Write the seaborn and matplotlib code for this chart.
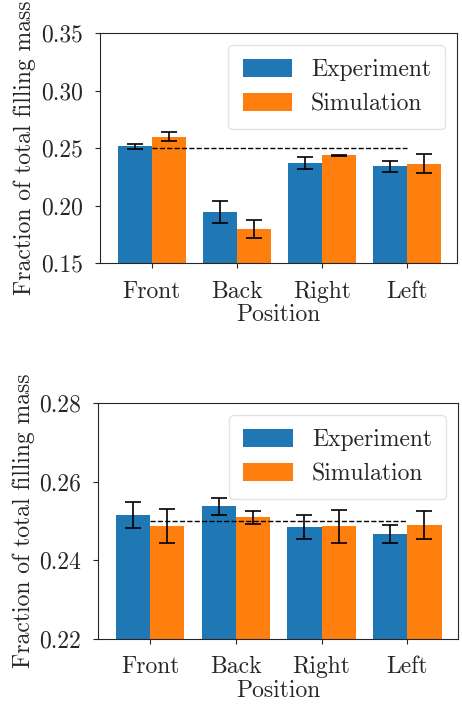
import matplotlib
matplotlib.use("Agg")
import matplotlib.pyplot as plt
import seaborn as sns
import pandas as pd
import numpy as np

positions = ["Front", "Back", "Right", "Left"]
series = ["Experiment", "Simulation"]

top_exp = [0.2514, 0.1944, 0.2370, 0.2340]
top_exp_err = [0.0023, 0.0099, 0.0050, 0.0050]
top_sim = [0.2600, 0.1796, 0.2436, 0.2364]
top_sim_err = [0.0040, 0.0077, 0.0005, 0.0085]

bot_exp = [0.2516, 0.2537, 0.2485, 0.2467]
bot_exp_err = [0.0033, 0.0022, 0.0030, 0.0022]
bot_sim = [0.2488, 0.2509, 0.2486, 0.2490]
bot_sim_err = [0.0043, 0.0016, 0.0043, 0.0036]

top_ticks = [0.15, 0.20, 0.25, 0.30, 0.35]
bot_ticks = [0.22, 0.24, 0.26, 0.28]
reference = 0.25

sns.set_style("ticks")
plt.rcParams["font.family"] = ["cmr10", "DejaVu Serif"]
plt.rcParams["axes.formatter.use_mathtext"] = True
FS = 17
plt.rcParams["font.size"] = FS

palette = {"Experiment": "#1f77b4", "Simulation": "#ff7f0e"}

fig = plt.figure(figsize=(4.62, 7.08), dpi=100)
ax1 = fig.add_axes([0.2165, 0.6285, 0.7727, 0.3249])
ax2 = fig.add_axes([0.212, 0.0975, 0.779, 0.3333])


def panel(ax, exp, exp_err, sim, sim_err, ticks):
    df = pd.DataFrame({
        "Position": positions * 2,
        "Series": [series[0]] * 4 + [series[1]] * 4,
        "Value": list(exp) + list(sim),
        "Err": list(exp_err) + list(sim_err),
    })
    sns.barplot(data=df, x="Position", y="Value", hue="Series", order=positions,
                hue_order=series, palette=palette, errorbar=None, ax=ax,
                saturation=1, width=0.8, linewidth=0)
    bars = [p for p in ax.patches if p.get_height() > 0][:8]
    for bar, (_, row) in zip(bars, df.iterrows()):
        cx = bar.get_x() + bar.get_width() / 2
        ax.errorbar(cx, row["Value"], yerr=row["Err"], color="black", capsize=5.5,
                    elinewidth=1.2, capthick=1.2, fmt="none", zorder=3)
    ax.hlines(reference, 0, 3, colors="black", linestyles="--", linewidth=1.0, zorder=4)
    ax.set_ylim(ticks[0], ticks[-1])
    ax.set_yticks(ticks)
    ax.set_yticklabels([f"{t:.2f}" for t in ticks])
    ax.set_xlim(-0.61, 3.59)
    ax.set_xlabel("Position", labelpad=1)
    ax.set_ylabel("Fraction of total filling mass", labelpad=3)
    for s in ax.spines.values():
        s.set_visible(True)
        s.set_linewidth(0.8)
    ax.tick_params(labelsize=FS, pad=9)
    leg = ax.legend(loc="upper right", fontsize=FS, frameon=True, fancybox=True,
                    handlelength=2.1, handleheight=0.8, borderpad=0.6)
    leg.get_frame().set_edgecolor("#dddddd")
    for p in leg.get_patches():
        p.set_linewidth(0)


panel(ax1, top_exp, top_exp_err, top_sim, top_sim_err, top_ticks)
panel(ax2, bot_exp, bot_exp_err, bot_sim, bot_sim_err, bot_ticks)

fig.savefig("out.png", dpi=100)
